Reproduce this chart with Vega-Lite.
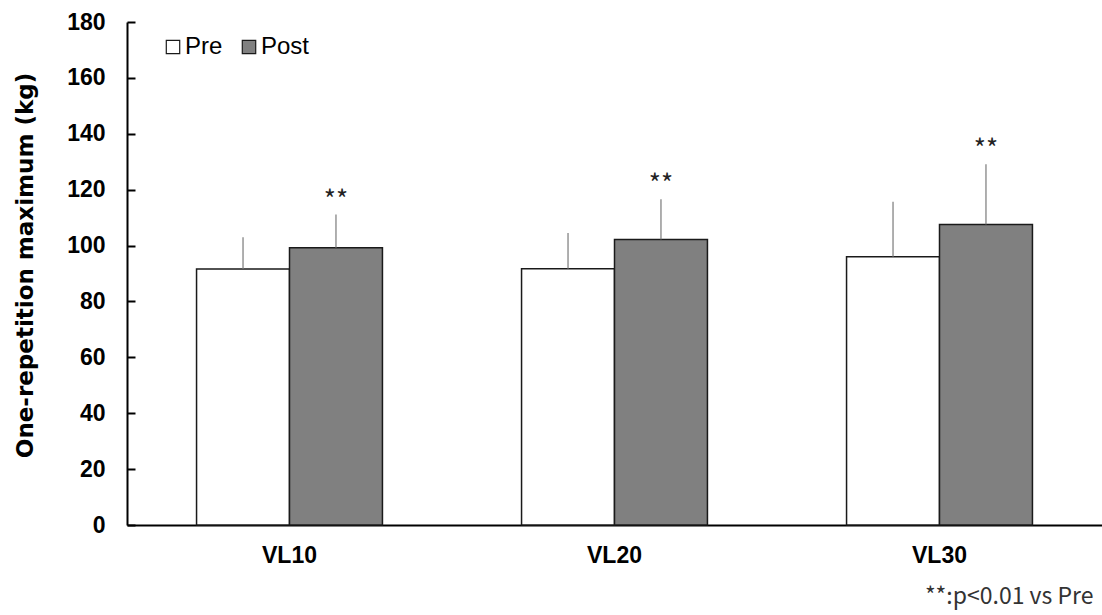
{
  "$schema": "https://vega.github.io/schema/vega-lite/v6.json",
  "width": 975,
  "height": 503,
  "autosize": {"type": "none"},
  "padding": {"left": 127, "top": 22, "right": 0, "bottom": 90},
  "background": "white",
  "config": {"view": {"stroke": null}},
  "data": {
    "values": [
      {"group": "VL10", "phase": "Pre", "value": 91.6, "err": 103.0, "sig": ""},
      {"group": "VL10", "phase": "Post", "value": 99.2, "err": 111.1, "sig": "**"},
      {"group": "VL20", "phase": "Pre", "value": 91.7, "err": 104.5, "sig": ""},
      {"group": "VL20", "phase": "Post", "value": 102.2, "err": 116.6, "sig": "**"},
      {"group": "VL30", "phase": "Pre", "value": 96.0, "err": 115.7, "sig": ""},
      {"group": "VL30", "phase": "Post", "value": 107.5, "err": 129.1, "sig": "**"}
    ]
  },
  "encoding": {
    "x": {
      "field": "group",
      "type": "nominal",
      "sort": null,
      "scale": {"paddingInner": 0.428, "paddingOuter": 0.214},
      "axis": {
        "title": "**:p<0.01 vs Pre",
        "titleFont": "Noto Sans CJK JP",
        "titleFontSize": 23,
        "titleFontWeight": "normal",
        "titleColor": "#333333",
        "titleAnchor": "end",
        "titleAlign": "right",
        "titleBaseline": "middle",
        "titleX": 966,
        "titleY": 71,
        "labelAngle": 0,
        "labelFont": "Liberation Sans",
        "labelFontWeight": "bold",
        "labelFontSize": 23,
        "labelColor": "black",
        "labelPadding": 19,
        "ticks": false,
        "domainColor": "black",
        "domainWidth": 2
      }
    },
    "xOffset": {"field": "phase", "type": "nominal", "sort": ["Pre", "Post"]}
  },
  "layer": [
    {
      "mark": {"type": "bar", "stroke": "#1a1a1a", "strokeWidth": 1.5},
      "encoding": {
        "y": {
          "field": "value",
          "type": "quantitative",
          "scale": {"domain": [0, 180]},
          "axis": {
            "title": "One-repetition  maximum  (kg)",
            "titleFont": "DejaVu Sans",
            "titleFontWeight": "bold",
            "titleFontSize": 23,
            "titleColor": "black",
            "titlePadding": 29,
            "titleY": 243,
            "values": [0, 20, 40, 60, 80, 100, 120, 140, 160, 180],
            "grid": false,
            "labelFont": "Liberation Sans",
            "labelFontWeight": "bold",
            "labelFontSize": 23,
            "labelColor": "black",
            "tickSize": -8,
            "tickColor": "black",
            "tickWidth": 2,
            "labelPadding": 30,
            "domainColor": "black",
            "domainWidth": 2
          }
        },
        "fill": {
          "field": "phase",
          "type": "nominal",
          "sort": ["Pre", "Post"],
          "scale": {"domain": ["Pre", "Post"], "range": ["white", "#808080"]},
          "legend": {
            "title": null,
            "orient": "none",
            "legendX": 34,
            "legendY": 13,
            "direction": "horizontal",
            "symbolType": "square",
            "symbolSize": 180,
            "symbolStrokeColor": "#1a1a1a",
            "symbolStrokeWidth": 1.2,
            "labelFont": "Liberation Sans",
            "labelFontSize": 24,
            "labelColor": "black",
            "labelOffset": 0,
            "columnPadding": 14
          }
        }
      }
    },
    {
      "mark": {"type": "rule", "color": "#7a7a7a", "strokeWidth": 1.2},
      "encoding": {
        "y": {"field": "value", "type": "quantitative"},
        "y2": {"field": "err"}
      }
    },
    {
      "mark": {"type": "text", "font": "Noto Sans CJK JP", "fontSize": 26, "color": "#222222", "baseline": "middle", "dy": -14},
      "encoding": {
        "y": {"field": "err", "type": "quantitative"},
        "text": {"field": "sig", "type": "nominal"}
      }
    }
  ]
}
